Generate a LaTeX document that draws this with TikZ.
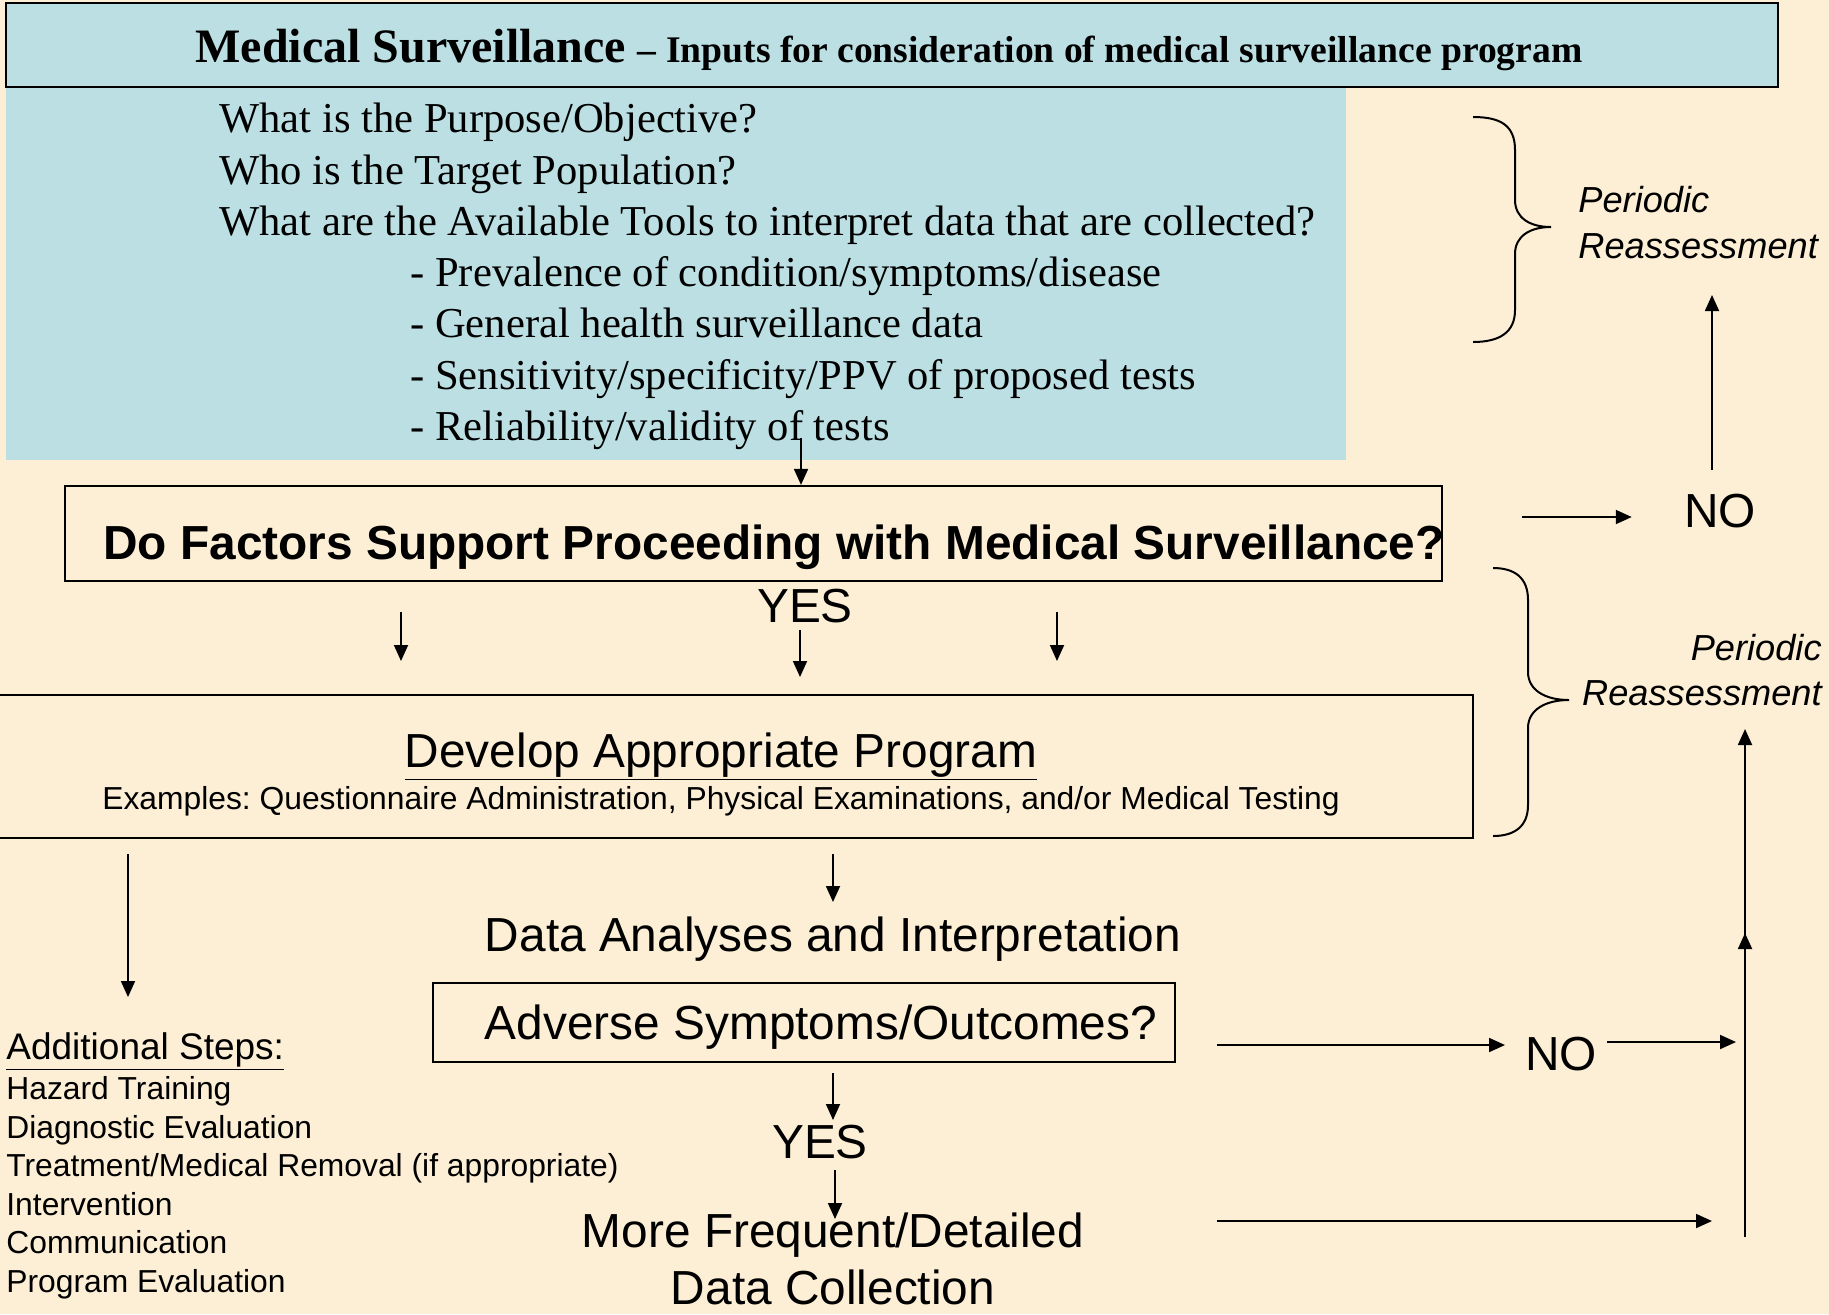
\documentclass[tikz,border=0pt]{standalone}
\usepackage{fontspec}
\setmainfont{Liberation Serif}
\newfontfamily\sansf{Liberation Sans}
\usetikzlibrary{arrows.meta}
\definecolor{parchment}{HTML}{FCEFD5}
\definecolor{paleblue}{HTML}{BBDFE3}
\frenchspacing
\tikzset{
  boxline/.style={draw=black, line width=1.1pt, inner sep=0pt},
  arr/.style={-{Triangle[length=8pt,width=7pt]}, line width=0.9pt},
  brace/.style={line width=1pt},
  serifline/.style={anchor=base west, inner sep=0pt, font=\fontsize{21.3}{25.6}\selectfont},
  biglabel/.style={anchor=base, inner sep=0pt, font=\sansf\fontsize{23.9}{28.7}\selectfont},
  midlabel/.style={inner sep=0pt, font=\sansf\fontsize{18.1}{21.7}\selectfont\itshape},
  steplabel/.style={anchor=base west, inner sep=0pt, font=\sansf\fontsize{15.9}{19.1}\selectfont},
}
\begin{document}
\begin{tikzpicture}[x=0.5pt,y=-0.5pt]
% canvas
\fill[parchment] (0,0) rectangle (1829,1314);
\useasboundingbox (0,0) rectangle (1829,1314);

% inputs panel and heading bar
\node[fill=paleblue, inner sep=0pt, minimum width=670pt, minimum height=186.5pt] (inputs) at (676,273.5) {};
\node[boxline, fill=paleblue, minimum width=886pt, minimum height=42pt] (title) at (892,45) {};
\node[anchor=base west, inner sep=0pt] (titletext) at (195,62)
  {\bfseries\fontsize{24}{28}\selectfont Medical Surveillance {\fontsize{18.8}{23}\selectfont – Inputs for consideration of medical surveillance program}};

\node[serifline] (q1) at (219,132) {What is the Purpose/Objective?};
\node[serifline] (q2) at (219,184) {Who is the Target Population?};
\node[serifline] (q3) at (219,235) {What are the Available Tools to interpret data that are collected?};
\node[serifline] (t1) at (410,286) {- Prevalence of condition/symptoms/disease};
\node[serifline] (t2) at (410,337) {- General health surveillance data};
\node[serifline] (t3) at (410,389) {- Sensitivity/specificity/PPV of proposed tests};
\node[serifline] (t4) at (410,440) {- Reliability/validity of tests};

% first decision
\node[boxline, minimum width=688.5pt, minimum height=47.5pt] (decide) at (753.5,533.5) {};
\node[anchor=base, inner sep=0pt, font=\sansf\bfseries\fontsize{23.9}{28.7}\selectfont] (decidetext) at (774,559)
  {Do Factors Support Proceeding with Medical Surveillance?};
\coordinate (inputsout) at (801,438);
\draw[arr] (inputsout) -- (inputsout |- decide.north);

\node[biglabel] (yes1) at (805,622) {YES};
\node[biglabel] (no1) at (1720,527) {NO};
\coordinate (no1in) at (1522,517);
\draw[arr, shorten >=26pt] (no1in) -- (no1.west |- no1in);
\coordinate (no1top) at (1712,470);
\coordinate (reassess1foot) at (1712,295);
\draw[arr] (no1top) -- (reassess1foot);

% periodic reassessment, upper brace
\draw[brace] (1473,117) .. controls (1500,117) and (1515,125) .. (1515,150) -- (1515,200)
  .. controls (1515,218) and (1530,227) .. (1551,227)
  .. controls (1530,227) and (1515,236) .. (1515,254) -- (1515,310)
  .. controls (1515,332) and (1500,342) .. (1473,342);
\node[midlabel, anchor=base west] (per1a) at (1578,212) {Periodic};
\node[midlabel, anchor=base west] (per1b) at (1578,258) {Reassessment};

% program development
\node[boxline, minimum width=739pt, minimum height=71.5pt] (develop) at (734,766.5) {};
\node[biglabel] (developtext) at (721,767) {\underline{Develop Appropriate Program}};
\node[anchor=base, inner sep=0pt, font=\sansf\fontsize{15.9}{19}\selectfont] (examples) at (721,809)
  {Examples: Questionnaire Administration, Physical Examinations, and/or Medical Testing};
\coordinate (ya) at (401,612); \coordinate (yb) at (800,630); \coordinate (yc) at (1057,612);
\draw[arr] (ya) -- (401,661);
\draw[arr] (yb) -- (800,677);
\draw[arr] (yc) -- (1057,661);

% periodic reassessment, lower brace
\draw[brace] (1493,568) .. controls (1515,568) and (1528,578) .. (1528,600) -- (1528,672)
  .. controls (1528,690) and (1545,700) .. (1569,700)
  .. controls (1545,700) and (1528,710) .. (1528,728) -- (1528,805)
  .. controls (1528,826) and (1515,836) .. (1493,836);
\node[midlabel, anchor=base east] (per2a) at (1822,660) {Periodic};
\node[midlabel, anchor=base east] (per2b) at (1822,705) {Reassessment};

% additional steps
\coordinate (stepsin) at (128,854);
\node[anchor=base west, inner sep=0pt, font=\sansf\fontsize{18.5}{22}\selectfont] (steps) at (6,1059) {\underline{Additional Steps:}};
\draw[arr] (stepsin) -- (128,997);
\node[steplabel] (s1) at (6,1099) {Hazard Training};
\node[steplabel] (s2) at (6,1138) {Diagnostic Evaluation};
\node[steplabel] (s3) at (6,1176) {Treatment/Medical Removal (if appropriate)};
\node[steplabel] (s4) at (6,1215) {Intervention};
\node[steplabel] (s5) at (6,1253) {Communication};
\node[steplabel] (s6) at (6,1292) {Program Evaluation};

% analysis chain
\node[biglabel] (analysis) at (833,951) {Data Analyses and Interpretation};
\coordinate (devout) at (833,854);
\draw[arr] (devout) -- (833,902);
\node[boxline, minimum width=371pt, minimum height=39.5pt] (adverse) at (804,1022.5) {};
\node[biglabel] (adversetext) at (821,1039) {Adverse Symptoms/Outcomes?};
\node[biglabel] (yes2) at (820,1158) {YES};
\draw[arr] (833,1073) -- (833,1120);
\node[biglabel] (more1) at (833,1247) {More Frequent/Detailed};
\node[biglabel] (more2) at (833,1304) {Data Collection};
\draw[arr] (835,1170) -- (835,1219);

\node[biglabel] (no2) at (1561,1070) {NO};
\draw[arr] (1217,1045) -- (1505,1045);
\draw[arr] (1607,1042) -- (1736,1042);
\draw[arr] (1217,1221) -- (1712,1221);

% return path to reassessment
\coordinate (loopbase) at (1745,1237);
\draw[arr] (loopbase) -- (1745,729);
\draw[arr] (loopbase) -- (1745,933);
\end{tikzpicture}
\end{document}
